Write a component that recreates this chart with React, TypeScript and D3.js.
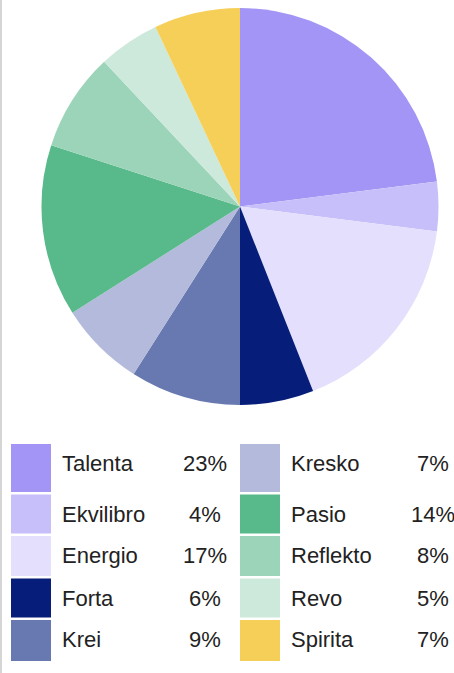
import React, { useEffect, useRef } from 'react';
import * as d3 from 'd3';

const categories = ['Talenta', 'Ekvilibro', 'Energio', 'Forta', 'Krei', 'Kresko', 'Pasio', 'Reflekto', 'Revo', 'Spirita'];
const shares = [23, 4, 17, 6, 9, 7, 14, 8, 5, 7];
const colors = ['#a395f5', '#c7bff9', '#e3dffd', '#061d7a', '#6779b0', '#b3badb', '#58b98b', '#9cd4b9', '#cde9db', '#f6cf58'];

interface Slice {
  name: string;
  value: number;
  color: string;
}

const W = 454;
const H = 673;

const App: React.FC = () => {
  const ref = useRef<SVGSVGElement | null>(null);

  useEffect(() => {
    if (!ref.current) return;
    const svg = d3.select(ref.current);
    svg.selectAll('*').remove();

    const data: Slice[] = categories.map((c, i) => ({ name: c, value: shares[i], color: colors[i] }));

    // thin grey rule on the left edge
    svg.append('rect').attr('x', 0).attr('y', 0).attr('width', 2).attr('height', H).attr('fill', '#d5d5d5');

    const cx = 240;
    const cy = 206.5;
    const radius = 198.5;

    const pie = d3.pie<Slice>().sort(null).value(d => d.value);
    const arc = d3.arc<d3.PieArcDatum<Slice>>().innerRadius(0).outerRadius(radius);

    svg.append('g')
      .attr('transform', `translate(${cx}, ${cy})`)
      .selectAll('path')
      .data(pie(data))
      .enter()
      .append('path')
      .attr('d', arc)
      .attr('fill', d => d.data.color);

    // legend: two columns of five rows
    const rowHeights = [48, 39, 40, 39, 41];
    const gap = 2.5;
    const top = 444;
    const rowTops: number[] = [];
    let acc = top;
    rowHeights.forEach(h => { rowTops.push(acc); acc += h + gap; });

    const cols = [
      { swatchX: 11, labelX: 62, pctX: 205 },
      { swatchX: 240, labelX: 291, pctX: 433 },
    ];

    const legend = svg.append('g')
      .style('font-family', '"Liberation Sans", Arial, sans-serif')
      .style('font-size', '22px')
      .style('fill', '#222');

    data.forEach((d, i) => {
      const col = cols[Math.floor(i / 5)];
      const r = i % 5;
      const y0 = rowTops[r];
      legend.append('rect')
        .attr('x', col.swatchX)
        .attr('y', y0)
        .attr('width', 40)
        .attr('height', rowHeights[r])
        .attr('fill', d.color);
      legend.append('text')
        .attr('x', col.labelX)
        .attr('y', y0 + 27)
        .text(d.name);
      legend.append('text')
        .attr('x', col.pctX)
        .attr('y', y0 + 27)
        .attr('text-anchor', 'middle')
        .text(`${d.value}%`);
    });
  }, []);

  return (
    <div style={{ position: 'absolute', left: 0, top: 0, background: '#fff' }}>
      <svg ref={ref} width={W} height={H} style={{ display: 'block' }} />
    </div>
  );
};

export default App;
